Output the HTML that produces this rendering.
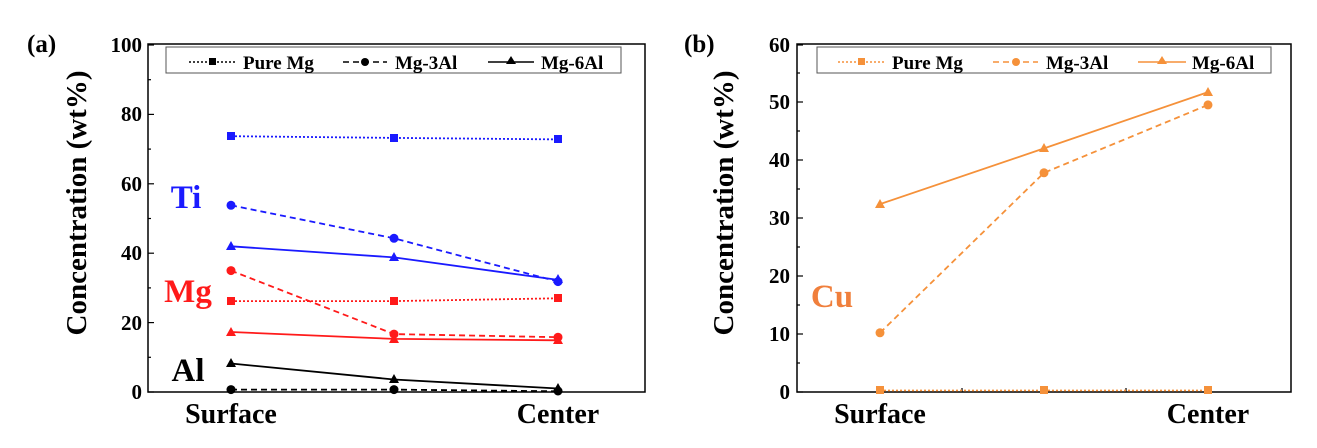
<!DOCTYPE html>
<html><head><style>body{margin:0;background:#fff}svg{display:block}</style></head><body>
<svg width="1317" height="448" xmlns="http://www.w3.org/2000/svg" font-family="'Liberation Serif',serif" font-weight="bold">
<rect width="1317" height="448" fill="#fff"/>
<!-- Panel a -->
<text x="27" y="52" font-size="25">(a)</text>
<rect x="148" y="44" width="497" height="348" fill="none" stroke="#000" stroke-width="1.5"/>
<g stroke="#000" stroke-width="1.2">
<line x1="148" y1="392" x2="154" y2="392"/><line x1="148" y1="322.6" x2="154" y2="322.6"/><line x1="148" y1="253.2" x2="154" y2="253.2"/><line x1="148" y1="183.8" x2="154" y2="183.8"/><line x1="148" y1="114.4" x2="154" y2="114.4"/><line x1="148" y1="45" x2="154" y2="45"/>
<line x1="148" y1="357.3" x2="151" y2="357.3"/><line x1="148" y1="287.9" x2="151" y2="287.9"/><line x1="148" y1="218.5" x2="151" y2="218.5"/><line x1="148" y1="149.1" x2="151" y2="149.1"/><line x1="148" y1="79.7" x2="151" y2="79.7"/>
</g>
<g font-size="21" text-anchor="end">
<text x="142" y="399">0</text><text x="142" y="330">20</text><text x="142" y="260">40</text><text x="142" y="191">60</text><text x="142" y="121">80</text><text x="142" y="52">100</text>
</g>
<text transform="translate(86,203) rotate(-90)" font-size="29" text-anchor="middle">Concentration (wt%)</text>
<text x="231" y="423" font-size="28" text-anchor="middle">Surface</text>
<text x="558" y="423" font-size="28" text-anchor="middle">Center</text>
<rect x="166" y="47" width="455" height="26" fill="#fff" stroke="#555" stroke-width="1"/>
<g font-size="19">
<line x1="189" y1="62" x2="237" y2="62" stroke="#000" stroke-width="1.5" stroke-dasharray="2,2"/><rect x="209" y="58" width="7" height="7"/><text x="243" y="69">Pure Mg</text>
<line x1="343" y1="62" x2="387" y2="62" stroke="#000" stroke-width="1.5" stroke-dasharray="6,4"/><circle cx="365" cy="62" r="4"/><text x="395" y="69">Mg-3Al</text>
<line x1="488" y1="62" x2="534" y2="62" stroke="#000" stroke-width="1.5"/><path d="M511 56 L516 64 L506 64Z"/><text x="541" y="69">Mg-6Al</text>
</g>
<g fill="none" stroke-width="1.8">
<polyline points="231,136.2 394,137.9 558,139.4" stroke="#1a1aff" stroke-dasharray="2,2"/>
<polyline points="231,205.3 394,238.3 558,281.6" stroke="#1a1aff" stroke-dasharray="6,4"/>
<polyline points="231,246.3 394,257.4 558,279.9" stroke="#1a1aff"/>
<polyline points="231,301.1 394,301.1 558,298.3" stroke="#ff1a1a" stroke-dasharray="2,2"/>
<polyline points="231,270.6 394,334.1 558,337.2" stroke="#ff1a1a" stroke-dasharray="6,4"/>
<polyline points="231,332 394,338.9 558,340.3" stroke="#ff1a1a"/>
<polyline points="231,389.6 394,389.6 558,391.3" stroke="#000" stroke-dasharray="6,4"/>
<polyline points="231,363.5 394,379.5 558,388.5" stroke="#000"/>
</g>
<g fill="#1a1aff"><rect x="227" y="132" width="8" height="8"/><rect x="390" y="134" width="8" height="8"/><rect x="554" y="135" width="8" height="8"/>
<circle cx="231" cy="205.3" r="4.5"/><circle cx="394" cy="238.3" r="4.5"/><circle cx="558" cy="281.6" r="4.5"/>
<path d="M231 241 L236 250 L226 250Z M394 252 L399 261 L389 261Z M558 274 L563 283 L553 283Z"/></g>
<g fill="#ff1a1a"><rect x="227" y="297" width="8" height="8"/><rect x="390" y="297" width="8" height="8"/><rect x="554" y="294" width="8" height="8"/>
<circle cx="231" cy="270.6" r="4.5"/><circle cx="394" cy="334.1" r="4.5"/><circle cx="558" cy="337.2" r="4.5"/>
<path d="M231 327 L236 336 L226 336Z M394 334 L399 343 L389 343Z M558 335 L563 344 L553 344Z"/></g>
<g fill="#000"><circle cx="231" cy="389.6" r="4.5"/><circle cx="394" cy="389.6" r="4.5"/><circle cx="558" cy="391" r="4.5"/>
<path d="M231 358 L236 367 L226 367Z M394 374 L399 383 L389 383Z M558 383 L563 392 L553 392Z"/></g>
<text x="186" y="208" font-size="33" fill="#1a1aff" text-anchor="middle">Ti</text>
<text x="188" y="302" font-size="33" fill="#ff1a1a" text-anchor="middle">Mg</text>
<text x="188" y="381" font-size="33" fill="#000" text-anchor="middle">Al</text>

<!-- Panel b -->
<text x="684" y="52" font-size="25">(b)</text>
<rect x="797" y="44" width="494" height="348" fill="none" stroke="#000" stroke-width="1.5"/>
<g stroke="#000" stroke-width="1.2">
<line x1="797" y1="392" x2="803" y2="392"/><line x1="797" y1="334" x2="803" y2="334"/><line x1="797" y1="276" x2="803" y2="276"/><line x1="797" y1="218" x2="803" y2="218"/><line x1="797" y1="160" x2="803" y2="160"/><line x1="797" y1="102" x2="803" y2="102"/><line x1="797" y1="45" x2="803" y2="45"/>
<line x1="797" y1="363" x2="800" y2="363"/><line x1="797" y1="305" x2="800" y2="305"/><line x1="797" y1="247" x2="800" y2="247"/><line x1="797" y1="189" x2="800" y2="189"/><line x1="797" y1="131" x2="800" y2="131"/><line x1="797" y1="73" x2="800" y2="73"/>
<line x1="962" y1="392" x2="962" y2="388"/><line x1="1126" y1="392" x2="1126" y2="388"/>
</g>
<g font-size="21" text-anchor="end">
<text x="790" y="399">0</text><text x="790" y="341">10</text><text x="790" y="283">20</text><text x="790" y="225">30</text><text x="790" y="167">40</text><text x="790" y="109">50</text><text x="790" y="52">60</text>
</g>
<text transform="translate(733,203) rotate(-90)" font-size="29" text-anchor="middle">Concentration (wt%)</text>
<text x="880" y="423" font-size="28" text-anchor="middle">Surface</text>
<text x="1208" y="423" font-size="28" text-anchor="middle">Center</text>
<rect x="817" y="47" width="454" height="26" fill="#fff" stroke="#555" stroke-width="1"/>
<g font-size="19" fill="#000">
<line x1="838" y1="62" x2="886" y2="62" stroke="#f5913a" stroke-width="1.5" stroke-dasharray="2,2"/><rect x="858" y="58" width="7" height="7" fill="#f5913a"/><text x="892" y="69">Pure Mg</text>
<line x1="993" y1="62" x2="1038" y2="62" stroke="#f5913a" stroke-width="1.5" stroke-dasharray="6,4"/><circle cx="1016" cy="62" r="4" fill="#f5913a"/><text x="1046" y="69">Mg-3Al</text>
<line x1="1138" y1="62" x2="1186" y2="62" stroke="#f5913a" stroke-width="1.5"/><path d="M1162 56 L1167 64 L1157 64Z" fill="#f5913a"/><text x="1192" y="69">Mg-6Al</text>
</g>
<g fill="none" stroke="#f5913a" stroke-width="1.8">
<polyline points="880,390.5 1044,390.5 1208,390.5" stroke-dasharray="2,2"/>
<polyline points="880,332.8 1044,172.8 1208,104.9" stroke-dasharray="6,4"/>
<polyline points="880,204.1 1044,148.4 1208,92.1"/>
</g>
<g fill="#f5913a">
<rect x="876" y="386" width="8" height="8"/><rect x="1040" y="386" width="8" height="8"/><rect x="1204" y="386" width="8" height="8"/>
<circle cx="880" cy="332.8" r="4.5"/><circle cx="1044" cy="172.8" r="4.5"/><circle cx="1208" cy="104.9" r="4.5"/>
<path d="M880 199 L885 208 L875 208Z M1044 143 L1049 152 L1039 152Z M1208 87 L1213 96 L1203 96Z"/>
</g>
<text x="832" y="307" font-size="33" fill="#f07f3c" text-anchor="middle">Cu</text>
</svg>
</body></html>
